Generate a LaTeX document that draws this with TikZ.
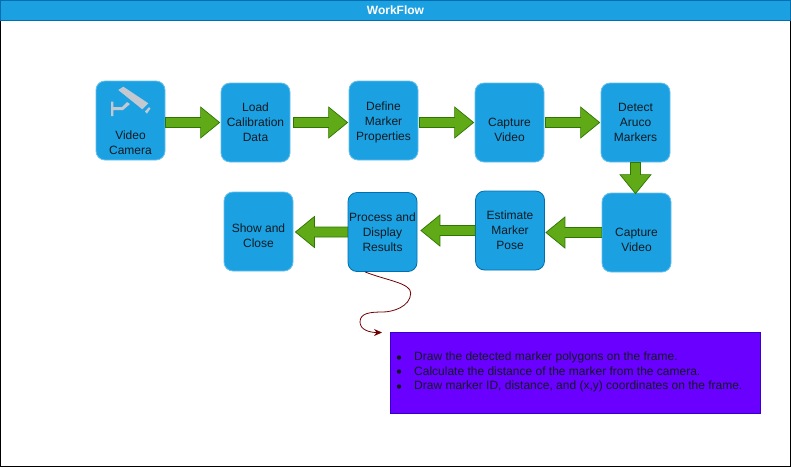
\documentclass[tikz,border=0pt]{standalone}
\usepackage{fontspec}
\setmainfont{Liberation Sans}
\usetikzlibrary{arrows.meta,calc}
\definecolor{boxblue}{HTML}{1BA1E2}
\definecolor{edgedark}{HTML}{006EAF}
\definecolor{edgelight}{HTML}{66BFEE}
\definecolor{arrowfill}{HTML}{60A917}
\definecolor{arrowedge}{HTML}{2D7600}
\definecolor{notefill}{HTML}{6A00FF}
\definecolor{noteedge}{HTML}{3700CC}
\definecolor{curvecol}{HTML}{6F0000}
\definecolor{txt}{HTML}{111A22}
\definecolor{iconcol}{HTML}{C4C8D0}
\tikzset{
  stepbox/.style={draw=edgelight,line width=.8pt,fill=boxblue,rounded corners=9pt,minimum width=69pt,minimum height=79pt,inner sep=0pt,align=center,text=txt,font=\fontsize{12}{15}\selectfont},
  darkbox/.style={stepbox,draw=edgedark},
  flow/.style={draw=arrowedge,fill=arrowfill,line width=.7pt,line join=miter,to path={
    -- ($(\tikztostart)!5pt!90:(\tikztotarget)$)
    -- ($($(\tikztotarget)!19pt!(\tikztostart)$)!5pt!90:(\tikztotarget)$)
    -- ($($(\tikztotarget)!19pt!(\tikztostart)$)!15.5pt!90:(\tikztotarget)$)
    -- (\tikztotarget)
    -- ($($(\tikztotarget)!19pt!(\tikztostart)$)!15.5pt!-90:(\tikztotarget)$)
    -- ($($(\tikztotarget)!19pt!(\tikztostart)$)!5pt!-90:(\tikztotarget)$)
    -- ($(\tikztostart)!5pt!-90:(\tikztotarget)$)
    -- cycle}},
  curve/.style={draw=curvecol,line width=.8pt,-{Stealth[length=8pt,width=7pt]}},
  icon/.style={fill=iconcol,draw=none}
}
\begin{document}
\begin{tikzpicture}[x=1pt,y=-1pt]
\useasboundingbox (0,0) rectangle (791,467);
\node[draw=black,line width=1pt,minimum width=790pt,minimum height=446pt,inner sep=0pt] (frame) at (395.5,243.5) {};
\node[draw=edgedark,line width=1pt,fill=boxblue,minimum width=790pt,minimum height=20pt,inner sep=0pt,text=white,font=\bfseries\fontsize{12}{14}\selectfont] (header) at (395.5,10.5) {WorkFlow};
\node[stepbox] (vc) at (130.5,120.5) {};
\node[stepbox] (load) at (255.5,122.5) {Load\\Calibration\\Data};
\node[stepbox] (define) at (383.5,120.5) {\rule{0pt}{13pt}Define\\Marker\\Properties};
\node[stepbox] (cap1) at (509.5,122.5) {\rule{0pt}{8pt}\\Capture\\Video};
\node[stepbox] (detect) at (635.5,122.5) {Detect\\Aruco\\Markers};
\node[stepbox] (cap2) at (636.5,232.5) {\rule{0pt}{8pt}\\Capture\\Video};
\node[darkbox] (estimate) at (510,230.5) {Estimate\\Marker\\Pose};
\node[darkbox] (process) at (382.5,232) {Process and\\Display\\Results};
\node[stepbox] (show) at (258.5,231.5) {\rule{0pt}{10pt}\\[-7pt]Show and\\Close};
\node[text=txt,inner sep=0pt,align=center,font=\fontsize{12}{15}\selectfont] (vclabel) at (130.5,142.5) {Video\\Camera};
% camera icon
\fill[icon] (118.3,90) -- (123.3,86.7) -- (148.3,103.3) -- (142.3,109.3) -- cycle;
\fill[icon] (145,111.5) -- (149,107) -- (150.5,108.5) -- (147,113.5) -- cycle;
\fill[icon] (111,101.7) -- (113.3,101.7) -- (113.3,107) -- (122,107) -- (127,102) -- (130,104) -- (123,110) -- (113.3,110) -- (113.3,116) -- (111,116) -- cycle;
\draw[flow] (vc.east |- load.west) to ([xshift=-1pt]load.west);
\draw[flow] ([xshift=3pt]load.east) to ([xshift=-1pt]define.west |- load.east);
\draw[flow] ([xshift=1pt]define.east |- cap1.west) to ([xshift=-1pt]cap1.west);
\draw[flow] ([xshift=1pt]cap1.east) to ([xshift=-1pt]detect.west);
\draw[flow] (detect.south) to ([yshift=-1pt]detect.south |- cap2.north);
\draw[flow] (cap2.west) to ([xshift=1pt]estimate.east |- cap2.west);
\draw[flow] (estimate.west) to ([xshift=3.5pt]process.east |- estimate.west);
\draw[flow] (process.west) to ([xshift=2pt]show.east |- process.west);
\node[draw=noteedge,line width=.8pt,fill=notefill,minimum width=370.5pt,minimum height=81pt,inner sep=0pt] (note) at (575.3,372.5) {};
\foreach \yy/\tt in {357.5/Draw the detected marker polygons on the frame.,371.5/Calculate the distance of the marker from the camera.,386.5/{Draw marker ID, distance, and (x,y) coordinates on the frame.}}{
  \fill[txt] (399,\yy) circle (2.2pt);
  \node[anchor=west,inner sep=0pt,text=txt,font=\fontsize{12}{14}\selectfont] at (414,\yy) {\tt};
}
\coordinate (curveend) at (382,332.5);
\draw[curve] ([xshift=-17.5pt]process.south) .. controls (385,280) and (411,283) .. (410.7,293) .. controls (410.5,307) and (392,312) .. (383,312) .. controls (370,312) and (360,313) .. (360,322) .. controls (360,330) and (370,332.5) .. (curveend);
\end{tikzpicture}
\end{document}
